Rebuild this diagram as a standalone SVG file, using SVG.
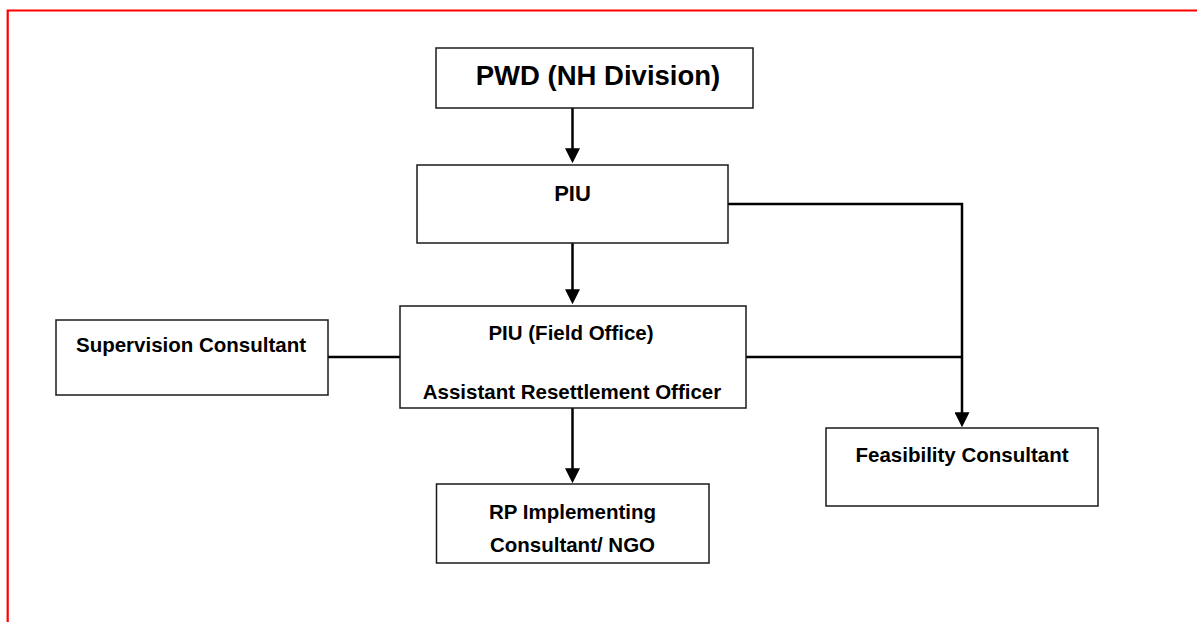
<svg xmlns="http://www.w3.org/2000/svg" width="1197" height="622" viewBox="0 0 1197 622">
  <defs>
    <style>
      .box { fill: #ffffff; stroke: #1a1a1a; stroke-width: 1.5; }
      .lbl { font-family: "Liberation Sans", Arial, sans-serif; font-weight: bold; font-size: 20.5px; fill: #000000; text-anchor: middle; }
      .big { font-size: 27.5px; }
      .mid { font-size: 22px; }
      .conn { fill: none; stroke: #000000; stroke-width: 2.5; }
    </style>
    <marker id="arrow" viewBox="0 0 6 6" refX="0.3" refY="3" markerWidth="6" markerHeight="6" markerUnits="strokeWidth" orient="auto">
      <path d="M0,0 L6,3 L0,6 z" fill="#000000"/>
    </marker>
  </defs>
  <rect x="0" y="0" width="1197" height="622" fill="#ffffff"/>
  <path d="M7.7,622 V10.5 H1197" fill="none" stroke="#ff0000" stroke-width="2.2"/>

  <g id="connectors">
    <path class="conn" d="M572.5,108 V149" marker-end="url(#arrow)"/>
    <path class="conn" d="M572.5,243 V290" marker-end="url(#arrow)"/>
    <path class="conn" d="M572.5,408 V469" marker-end="url(#arrow)"/>
    <path class="conn" d="M728,204 H962 V413" marker-end="url(#arrow)"/>
    <path class="conn" d="M746,357 H962"/>
    <path class="conn" d="M328,357 H400"/>
  </g>

  <g id="pwd">
    <rect class="box" x="436" y="48" width="317" height="60"/>
    <text class="lbl big" x="598" y="85">PWD (NH Division)</text>
  </g>
  <g id="piu">
    <rect class="box" x="417" y="165" width="311" height="78"/>
    <text class="lbl mid" x="572.5" y="201">PIU</text>
  </g>
  <g id="piu-field">
    <rect class="box" x="400" y="306" width="346" height="102"/>
    <text class="lbl" x="571" y="339.5">PIU (Field Office)</text>
    <text class="lbl" x="572" y="399">Assistant Resettlement Officer</text>
  </g>
  <g id="supervision">
    <rect class="box" x="56" y="320" width="272" height="75"/>
    <text class="lbl" x="191" y="352">Supervision Consultant</text>
  </g>
  <g id="feasibility">
    <rect class="box" x="826" y="428" width="272" height="78"/>
    <text class="lbl" x="962" y="461.5">Feasibility Consultant</text>
  </g>
  <g id="rp">
    <rect class="box" x="436.5" y="484" width="272.5" height="79"/>
    <text class="lbl" x="572.5" y="519">RP Implementing</text>
    <text class="lbl" x="572.5" y="552">Consultant/ NGO</text>
  </g>
</svg>
